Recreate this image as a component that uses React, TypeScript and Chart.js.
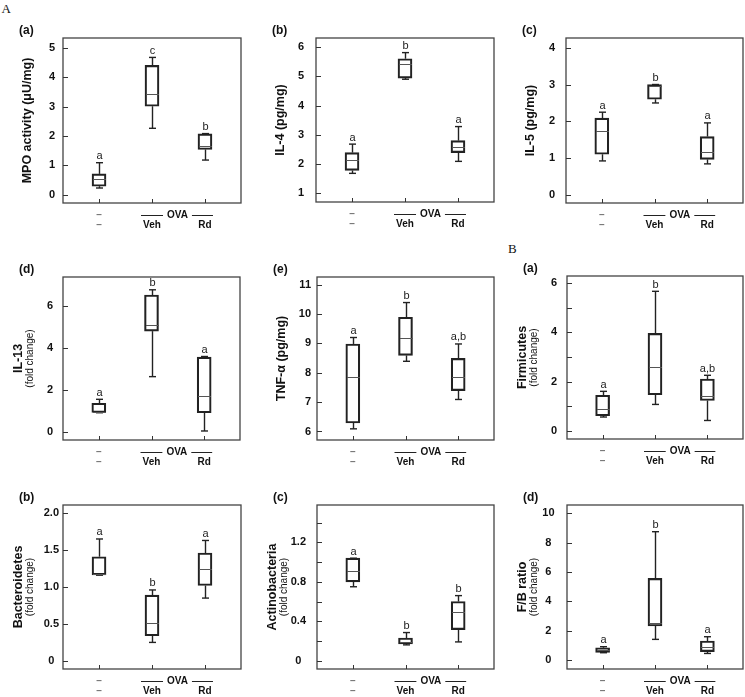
import React, { useEffect, useRef } from 'react';
import { Chart, registerables } from 'chart.js';

Chart.register(...registerables);

const FONT = '"Liberation Sans", Arial, Helvetica, sans-serif';
Chart.defaults.font.family = FONT;

// x categories (two label rows)
const GROUPS_TOP = ['–', '', ''];
const GROUPS_BOTTOM = ['–', 'Veh', 'Rd'];
const OVA_LABEL = 'OVA';

// five-number summaries per group: [min, q1, median, q3, max]
const MPO_BOX = [[0.23, 0.29, 0.52, 0.71, 1.09], [2.26, 3.01, 3.43, 4.40, 4.67], [1.18, 1.54, 1.67, 2.07, 2.08]];
const MPO_SIG = ['a', 'c', 'b'];
const MPO_TICKS = [0, 1, 2, 3, 4, 5];
const MPO_TICK_LABELS = ['0', '1', '2', '3', '4', '5'];

const IL4_BOX = [[1.68, 1.78, 2.14, 2.39, 2.68], [4.90, 4.94, 5.43, 5.60, 5.81], [2.09, 2.39, 2.59, 2.80, 3.28]];
const IL4_SIG = ['a', 'b', 'a'];
const IL4_TICKS = [1, 2, 3, 4, 5, 6];
const IL4_TICK_LABELS = ['1', '2', '3', '4', '5', '6'];

const IL5_BOX = [[0.93, 1.11, 1.73, 2.09, 2.25], [2.50, 2.60, 2.95, 3.00, 3.00], [0.85, 0.97, 1.16, 1.59, 1.96]];
const IL5_SIG = ['a', 'b', 'a'];
const IL5_TICKS = [0, 1, 2, 3, 4];
const IL5_TICK_LABELS = ['0', '1', '2', '3', '4'];

const IL13_BOX = [[0.92, 0.93, 0.97, 1.37, 1.56], [2.64, 4.81, 5.11, 6.53, 6.78], [0.05, 0.92, 1.70, 3.57, 3.60]];
const IL13_SIG = ['a', 'b', 'a'];
const IL13_TICKS = [0, 2, 4, 6];
const IL13_TICK_LABELS = ['0', '2', '4', '6'];

const TNF_BOX = [[6.09, 6.29, 7.85, 8.98, 9.20], [8.39, 8.59, 9.20, 9.89, 10.39], [7.09, 7.39, 7.85, 8.49, 8.98]];
const TNF_SIG = ['a', 'b', 'a,b'];
const TNF_TICKS = [6, 7, 8, 9, 10, 11];
const TNF_TICK_LABELS = ['6', '7', '8', '9', '10', '11'];

const FIRM_BOX = [[0.57, 0.62, 0.89, 1.45, 1.61], [1.08, 1.47, 2.59, 3.96, 5.66], [0.43, 1.24, 1.41, 2.11, 2.26]];
const FIRM_SIG = ['a', 'b', 'a,b'];
const FIRM_TICKS = [0, 1, 2, 3, 4, 5, 6];
const FIRM_TICK_LABELS = ['0', '', '2', '', '4', '', '6'];

const BACT_BOX = [[1.16, 1.165, 1.17, 1.41, 1.65], [0.25, 0.34, 0.51, 0.89, 0.96], [0.85, 1.02, 1.25, 1.46, 1.63]];
const BACT_SIG = ['a', 'b', 'a'];
const BACT_TICKS = [0, 0.5, 1, 1.5, 2];
const BACT_TICK_LABELS = ['0', '0.5', '1.0', '1.5', '2.0'];

const ACTINO_BOX = [[0.75, 0.80, 0.905, 1.04, 1.04], [0.16, 0.17, 0.19, 0.23, 0.285], [0.19, 0.315, 0.49, 0.60, 0.66]];
const ACTINO_SIG = ['a', 'b', 'b'];
const ACTINO_TICKS = [0, 0.2, 0.4, 0.6, 0.8, 1.0, 1.2, 1.4];
const ACTINO_TICK_LABELS = ['0', '', '0.4', '', '0.8', '', '1.2', ''];

const FB_BOX = [[0.50, 0.52, 0.68, 0.84, 0.91], [1.41, 2.32, 2.55, 5.57, 8.75], [0.45, 0.57, 0.86, 1.30, 1.59]];
const FB_SIG = ['a', 'b', 'a'];
const FB_TICKS = [0, 2, 4, 6, 8, 10];
const FB_TICK_LABELS = ['0', '2', '4', '6', '8', '10'];

// layout constants
const PAD_L = 63;
const PAD_T = 30;
const PAD_R = 2;
const PAD_B = 32;

const PANELS = [
  { tag: '(a)', title: 'MPO activity (μU/mg)', sub: '', box: MPO_BOX, sig: MPO_SIG, ticks: MPO_TICKS, labels: MPO_TICK_LABELS, yMin: -0.28, yMax: 5.33, L: 63, T: 38, R: 241, B: 203, pad: 8, align: 'center' },
  { tag: '(b)', title: 'IL-4 (pg/mg)', sub: '', box: IL4_BOX, sig: IL4_SIG, ticks: IL4_TICKS, labels: IL4_TICK_LABELS, yMin: 0.70, yMax: 6.31, L: 316, T: 38, R: 494, B: 202, pad: 12, align: 'center' },
  { tag: '(c)', title: 'IL-5 (pg/mg)', sub: '', box: IL5_BOX, sig: IL5_SIG, ticks: IL5_TICKS, labels: IL5_TICK_LABELS, yMin: -0.21, yMax: 4.26, L: 566, T: 38, R: 743, B: 203, pad: 11, align: 'center' },
  { tag: '(d)', title: 'IL-13', sub: '(fold change)', box: IL13_BOX, sig: IL13_SIG, ticks: IL13_TICKS, labels: IL13_TICK_LABELS, yMin: -0.38, yMax: 7.39, L: 63, T: 277, R: 240, B: 440, pad: 10, align: 'center' },
  { tag: '(e)', title: 'TNF-α (pg/mg)', sub: '', box: TNF_BOX, sig: TNF_SIG, ticks: TNF_TICKS, labels: TNF_TICK_LABELS, yMin: 5.71, yMax: 11.26, L: 317, T: 277, R: 494, B: 440, pad: 6, align: 'near' },
  { tag: '(a)', title: 'Firmicutes', sub: '(fold change)', box: FIRM_BOX, sig: FIRM_SIG, ticks: FIRM_TICKS, labels: FIRM_TICK_LABELS, yMin: -0.32, yMax: 6.28, L: 567, T: 276, R: 743, B: 439, pad: 10, align: 'center' },
  { tag: '(b)', title: 'Bacteroidetes', sub: '(fold change)', box: BACT_BOX, sig: BACT_SIG, ticks: BACT_TICKS, labels: BACT_TICK_LABELS, yMin: -0.11, yMax: 2.11, L: 63, T: 505, R: 241, B: 669, pad: 4, align: 'center' },
  { tag: '(c)', title: 'Actinobacteria', sub: '(fold change)', box: ACTINO_BOX, sig: ACTINO_SIG, ticks: ACTINO_TICKS, labels: ACTINO_TICK_LABELS, yMin: -0.085, yMax: 1.58, L: 317, T: 505, R: 494, B: 669, pad: 11, align: 'center' },
  { tag: '(d)', title: 'F/B ratio', sub: '(fold change)', box: FB_BOX, sig: FB_SIG, ticks: FB_TICKS, labels: FB_TICK_LABELS, yMin: -0.61, yMax: 10.57, L: 567, T: 505, R: 743, B: 669, pad: 12.5, align: 'center' },
];

function makeBoxPlugin(p: any) {
  return {
    id: 'boxExtras',
    afterDraw(chart: any) {
      const { ctx, chartArea: a, scales } = chart;
      const x = scales.x;
      const y = scales.y;
      const line = (x1: number, y1: number, x2: number, y2: number) => {
        ctx.beginPath();
        ctx.moveTo(x1, y1);
        ctx.lineTo(x2, y2);
        ctx.stroke();
      };
      ctx.save();
      // frame
      ctx.strokeStyle = '#444';
      ctx.lineWidth = 1.3;
      ctx.strokeRect(a.left, a.top, a.right - a.left, a.bottom - a.top);
      // inward y ticks
      ctx.lineWidth = 1;
      ctx.strokeStyle = '#333';
      p.ticks.forEach((v: number) => {
        const py = Math.round(y.getPixelForValue(v)) + 0.5;
        line(a.left, py, a.left + 5, py);
      });
      // inward x ticks
      GROUPS_BOTTOM.forEach((_, i) => {
        const px = Math.round(x.getPixelForValue(i)) + 0.5;
        line(px, a.bottom, px, a.bottom - 4);
      });
      // whiskers, medians and significance letters
      const meta = chart.getDatasetMeta(0);
      p.box.forEach((s: number[], i: number) => {
        const px = Math.round(meta.data[i].x) + 0.5;
        const yMin = y.getPixelForValue(s[0]);
        const yQ1 = y.getPixelForValue(s[1]);
        const yMed = y.getPixelForValue(s[2]);
        const yQ3 = y.getPixelForValue(s[3]);
        const yMax = y.getPixelForValue(s[4]);
        ctx.strokeStyle = '#222';
        ctx.lineWidth = 1.4;
        if (yMax < yQ3 - 0.5) line(px, yQ3, px, yMax);
        if (yMin > yQ1 + 0.5) line(px, yQ1, px, yMin);
        line(px - 3.5, yMax, px + 3.5, yMax);
        line(px - 3.5, yMin, px + 3.5, yMin);
        ctx.strokeStyle = '#555';
        ctx.lineWidth = 1;
        line(px - 6.5, Math.round(yMed) + 0.5, px + 6.5, Math.round(yMed) + 0.5);
        ctx.fillStyle = '#222';
        ctx.font = `11px ${FONT}`;
        ctx.textAlign = 'center';
        ctx.textBaseline = 'alphabetic';
        ctx.fillText(p.sig[i], px, yMax - 3.5);
      });
      // OVA bracket
      const xVeh = x.getPixelForValue(1);
      const xRd = x.getPixelForValue(2);
      const mid = (xVeh + xRd) / 2 - 1;
      const rowY = a.bottom + 12;
      ctx.font = `bold 10px ${FONT}`;
      const tw = ctx.measureText(OVA_LABEL).width;
      ctx.fillStyle = '#111';
      ctx.textAlign = 'center';
      ctx.textBaseline = 'middle';
      ctx.fillText(OVA_LABEL, mid, rowY);
      ctx.strokeStyle = '#222';
      ctx.lineWidth = 1;
      line(xVeh - 11, Math.round(rowY) + 0.5, mid - tw / 2 - 4, Math.round(rowY) + 0.5);
      line(mid + tw / 2 + 4, Math.round(rowY) + 0.5, xRd + 8, Math.round(rowY) + 0.5);
      // y titles
      const cy = (a.top + a.bottom) / 2;
      ctx.fillStyle = '#111';
      ctx.textAlign = 'center';
      ctx.textBaseline = 'middle';
      if (p.sub) {
        ctx.save();
        ctx.translate(a.left - 44, cy);
        ctx.rotate(-Math.PI / 2);
        ctx.font = `bold 12.5px ${FONT}`;
        ctx.fillText(p.title, 0, 0);
        ctx.restore();
        ctx.save();
        ctx.translate(a.left - 33, cy);
        ctx.rotate(-Math.PI / 2);
        ctx.font = `10px ${FONT}`;
        ctx.fillText(p.sub, 0, 0);
        ctx.restore();
      } else {
        ctx.save();
        ctx.translate(a.left - 35, cy);
        ctx.rotate(-Math.PI / 2);
        ctx.font = `bold 12.5px ${FONT}`;
        ctx.fillText(p.title, 0, 0);
        ctx.restore();
      }
      // panel tag
      ctx.font = `bold 12px ${FONT}`;
      ctx.textAlign = 'left';
      ctx.textBaseline = 'middle';
      ctx.fillText(p.tag, a.left - 44, a.top - 7);
      ctx.restore();
    },
  };
}

function Panel({ p }: { p: any }) {
  const ref = useRef<HTMLCanvasElement | null>(null);
  const W = p.R - p.L + PAD_L + PAD_R;
  const H = p.B - p.T + PAD_T + PAD_B;
  useEffect(() => {
    if (!ref.current) return;
    const chart = new Chart(ref.current, {
      type: 'bar',
      data: {
        datasets: [
          {
            data: p.box.map((s: number[], i: number) => ({ x: i, y: [s[1], s[3]] })),
            backgroundColor: 'rgba(255,255,255,0)',
            borderColor: '#222',
            borderWidth: 1.5,
            borderSkipped: false,
            barThickness: 14,
          } as any,
        ],
      },
      options: {
        animation: false,
        responsive: false,
        devicePixelRatio: 1,
        layout: { padding: { left: 0, top: PAD_T, right: PAD_R, bottom: 0 } },
        plugins: { legend: { display: false }, tooltip: { enabled: false } },
        scales: {
          x: {
            type: 'linear',
            min: -0.68,
            max: 2.68,
            offset: false,
            grid: { display: false, drawTicks: false },
            border: { display: false },
            afterBuildTicks: (s: any) => {
              s.ticks = GROUPS_BOTTOM.map((_, i) => ({ value: i }));
            },
            afterFit: (s: any) => {
              s.height = PAD_B;
            },
            ticks: {
              padding: 7,
              maxRotation: 0,
              minRotation: 0,
              autoSkip: false,
              font: { size: 10, weight: 'bold', lineHeight: 1 },
              color: (c: any) => (c.index === 0 ? '#777' : '#111'),
              callback: (v: any) => [GROUPS_TOP[v], GROUPS_BOTTOM[v]],
            },
          },
          y: {
            type: 'linear',
            min: p.yMin,
            max: p.yMax,
            grid: { display: false, drawTicks: false },
            border: { display: false },
            afterBuildTicks: (s: any) => {
              s.ticks = p.ticks.map((v: number) => ({ value: v }));
            },
            afterFit: (s: any) => {
              s.width = PAD_L;
            },
            ticks: {
              padding: p.pad,
              crossAlign: p.align,
              autoSkip: false,
              font: { size: 11, weight: 'bold' },
              color: '#111',
              callback: (_v: any, i: number) => p.labels[i],
            },
          },
        },
      } as any,
      plugins: [makeBoxPlugin(p)],
    });
    return () => chart.destroy();
  }, []);
  return (
    <canvas
      ref={ref}
      width={W}
      height={H}
      style={{ position: 'absolute', left: p.L - PAD_L, top: p.T - PAD_T, width: W, height: H }}
    />
  );
}

export default function App() {
  return (
    <div style={{ position: 'absolute', left: 0, top: 0, width: 745, height: 697, background: '#fff', overflow: 'hidden' }}>
      <div style={{ position: 'absolute', left: 1.5, top: 2, font: '13px "Liberation Serif", serif', lineHeight: '13px', color: '#111' }}>A</div>
      <div style={{ position: 'absolute', left: 508, top: 242, font: '13px "Liberation Serif", serif', lineHeight: '13px', color: '#111' }}>B</div>
      {PANELS.map((p, i) => (
        <Panel key={i} p={p} />
      ))}
    </div>
  );
}
